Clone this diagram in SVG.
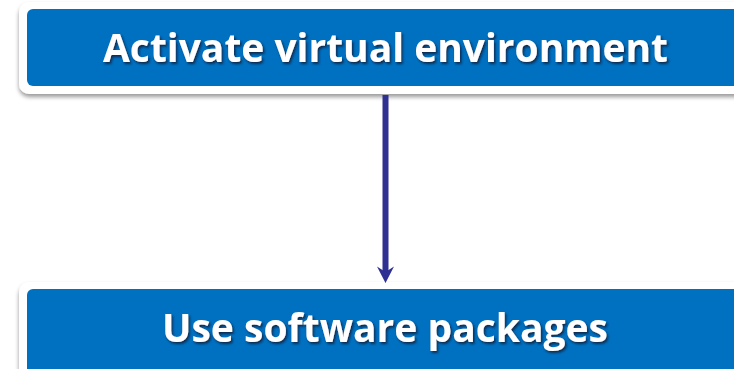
<svg xmlns="http://www.w3.org/2000/svg" width="734" height="369" viewBox="0 0 734 369">
  <defs>
    <filter id="boxShadow" x="-5%" y="-20%" width="110%" height="150%">
      <feDropShadow dx="0" dy="3" stdDeviation="2.2" flood-color="#000" flood-opacity="0.4"/>
    </filter>
    <filter id="textShadow" x="-5%" y="-20%" width="110%" height="150%">
      <feDropShadow dx="1.5" dy="2" stdDeviation="1.2" flood-color="#0a1e3c" flood-opacity="0.85"/>
    </filter>
  </defs>
  <style>
    .frame { fill: #ffffff; filter: url(#boxShadow); }
    .panel { fill: #0070c0; }
    .label { fill: #ffffff; font-family: "Open Sans", "Liberation Sans", sans-serif; font-weight: bold; text-anchor: middle; filter: url(#textShadow); }
    .link { stroke: #2e3192; stroke-width: 6; fill: none; }
    .head { fill: #2e3192; }
  </style>
  <rect width="734" height="369" fill="#ffffff"/>

  <g id="activate">
    <rect class="frame" x="19" y="2" width="740" height="92" rx="10"/>
    <rect class="panel" x="27" y="9" width="730" height="77" rx="6"/>
    <text class="label" x="385.5" y="62" font-size="40" textLength="565" lengthAdjust="spacingAndGlyphs">Activate virtual environment</text>
  </g>

  <g id="use-packages">
    <rect class="frame" x="19" y="282" width="740" height="100" rx="10"/>
    <rect class="panel" x="27" y="289" width="730" height="85" rx="6"/>
    <text class="label" x="385" y="342" font-size="40" textLength="446" lengthAdjust="spacingAndGlyphs">Use software packages</text>
  </g>

  <g id="connectors">
    <line class="link" x1="385.5" y1="95" x2="385.5" y2="273"/>
    <polygon class="head" points="385.5,283 377,266.5 385.5,272 394,266.5"/>
  </g>
</svg>
